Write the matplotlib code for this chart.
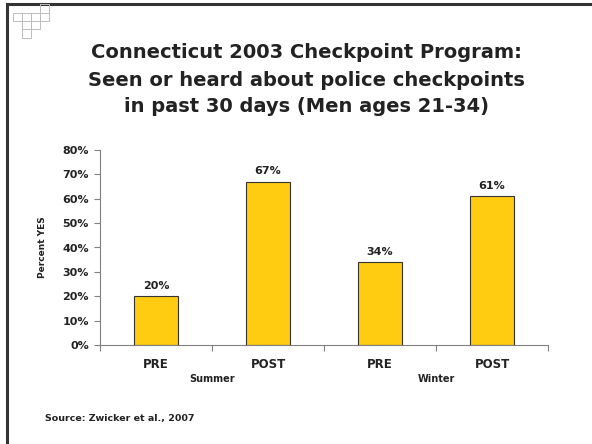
import matplotlib.pyplot as plt
from matplotlib.lines import Line2D

# === Data ===
phases = ["PRE", "POST", "PRE", "POST"]
seasons = ["Summer", "Winter"]
percent_yes = [20, 67, 34, 61]
y_ticks = [0, 10, 20, 30, 40, 50, 60, 70, 80]
title_lines = ["Connecticut 2003 Checkpoint Program:",
               "Seen or heard about police checkpoints",
               "in past 30 days (Men ages 21-34)"]

plt.rcParams["font.family"] = ["DejaVu Sans"]
text_color = "#222222"

fig = plt.figure(figsize=(5.92, 4.44), dpi=100)
W, H = 592, 444

# slide frame (top and left border)
fig.add_artist(Line2D([7 / W, 1], [1 - 4 / H, 1 - 4 / H], color="#333333", lw=2.2))
fig.add_artist(Line2D([7 / W, 7 / W], [0, 1 - 4 / H], color="#333333", lw=2.2))

# small grid decoration in the corner
xs = [13, 22, 31, 40, 49]
ys = [4, 13, 21, 29, 38]
cells = [(0, 1), (1, 1), (2, 1), (3, 0), (3, 1), (1, 2), (2, 2), (1, 3)]
for c, r in cells:
    x0, x1 = xs[c] / W, xs[c + 1] / W
    y0, y1 = 1 - ys[r] / H, 1 - ys[r + 1] / H
    fig.add_artist(Line2D([x0, x1, x1, x0, x0], [y0, y0, y1, y1, y0],
                          color="#bdbdbd", lw=0.7))

# title, one line at a time
for yy, line in zip([52, 80, 106], title_lines):
    fig.text(0.518, 1 - yy / H, line, ha="center", va="center", fontsize=14,
             fontweight="bold", color=text_color)

# === Chart ===
ax = fig.add_axes([100 / W, 1 - 345 / H, 448 / W, 195 / H])
pos = list(range(len(percent_yes)))
ax.bar(pos, percent_yes, width=0.4, color="#FFCC11", edgecolor="#333333", linewidth=0.8)
for x, v in zip(pos, percent_yes):
    ax.text(x, v + 2.2, f"{v}%", ha="center", va="bottom", fontsize=8,
            fontweight="bold", color=text_color)

ax.set_xlim(-0.5, 3.5)
ax.set_ylim(0, 80)
ax.set_yticks(y_ticks)
ax.set_yticklabels([f"{t}%" for t in y_ticks], fontsize=8, fontweight="bold", color=text_color)
ax.set_xticks([-0.5, 0.5, 1.5, 2.5, 3.5])
ax.set_xticklabels([])
ax.tick_params(axis="x", direction="out", length=4, color="#808080")
ax.tick_params(axis="y", direction="out", length=4, color="#808080", pad=4)
for x, lab in zip(pos, phases):
    ax.text(x, -5.5, lab, ha="center", va="top", fontsize=8.5, fontweight="bold",
            color=text_color, clip_on=False)
for x, lab in zip([0.5, 2.5], seasons):
    ax.text(x, -11.8, lab, ha="center", va="top", fontsize=7, fontweight="bold",
            color=text_color, clip_on=False)

ax.spines["top"].set_visible(False)
ax.spines["right"].set_visible(False)
ax.spines["left"].set_color("#808080")
ax.spines["bottom"].set_color("#808080")
ax.set_ylabel("Percent YES", fontsize=6.5, fontweight="bold", color=text_color, labelpad=11)

fig.text(45 / W, 1 - 418 / H, "Source: Zwicker et al., 2007", ha="left", va="center",
         fontsize=6.8, fontweight="bold", color=text_color)

fig.savefig("out.png", dpi=100)
